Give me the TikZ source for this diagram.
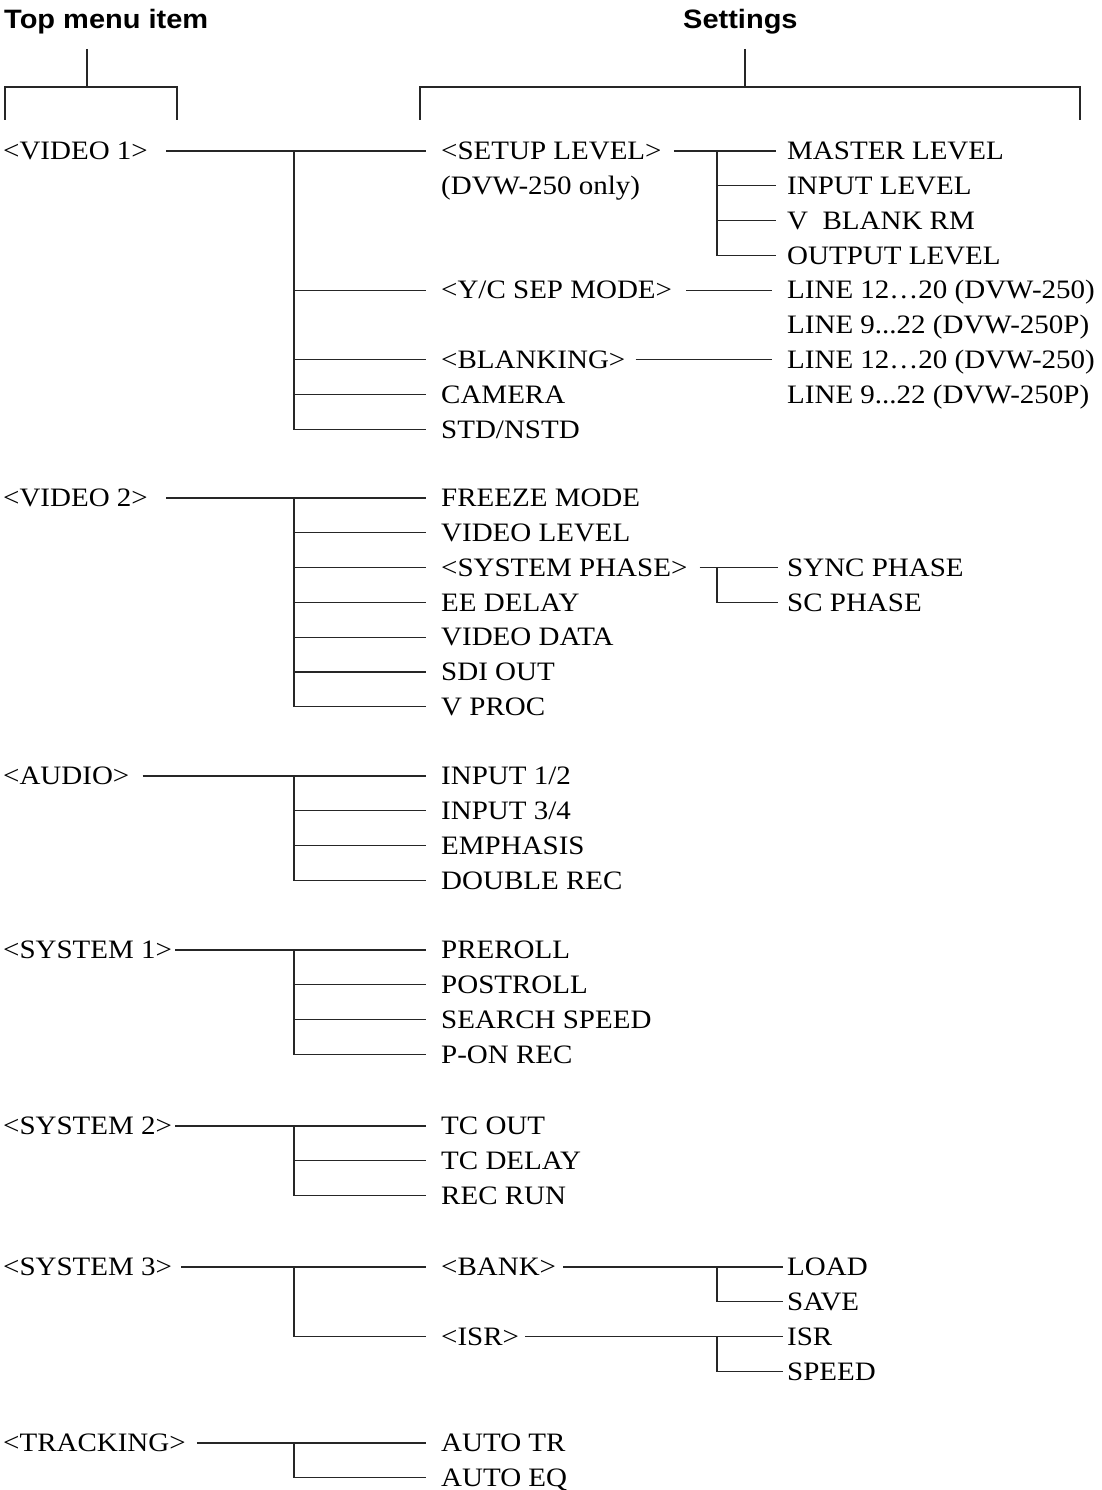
\documentclass[tikz,border=0pt]{standalone}
\usepackage{fontspec}
\setmainfont{Liberation Serif}[FakeStretch=1.09]
\newfontfamily\hdfont{Liberation Sans}[FakeStretch=1.09]
\begin{document}
\begin{tikzpicture}[x=1pt,y=-1pt,
  item/.style={anchor=west, inner sep=0pt, text height=17.4pt, text depth=0pt, font=\fontsize{26.6}{30}\selectfont},
  hdr/.style={anchor=base west, inner sep=0pt, font=\hdfont\bfseries\fontsize{26.6}{30}\selectfont},
  conn/.style={line width=1.2pt, draw=black!85}]
\useasboundingbox (0,0) rectangle (1102,1490);
% headers and brackets
\node[hdr] (tophdr) at (4,29) {Top menu item};
\node[hdr] (sethdr) at (683,29) {Settings};
\coordinate (tbstem) at (87,49);
\coordinate (sbstem) at (745,49);
\draw[conn] (tbstem) -- (87,87);
\draw[conn] (5,120) -- (5,87) -- (177,87) -- (177,120);
\draw[conn] (sbstem) -- (745,87);
\draw[conn] (420,120) -- (420,87) -- (1080,87) -- (1080,120);

% ---------- VIDEO 1
\node[item] (v1) at (3,151) {<VIDEO 1>};
\node[item] (setup) at (441,151) {<SETUP LEVEL>};
\node[item] (dvw) at (441,185.8) {(DVW-250 only)};
\node[item] (master) at (787,151) {MASTER LEVEL};
\node[item] (input) at (787,185.8) {INPUT LEVEL};
\node[item] (vblank) at (787,220.6) {V\ \ BLANK RM};
\node[item] (output) at (787,255.4) {OUTPUT LEVEL};
\node[item] (ycsep) at (441,290.2) {<Y/C SEP MODE>};
\node[item] (linea) at (787,290.2) {LINE 12…20 (DVW-250)};
\node[item] (lineb) at (787,325) {LINE 9...22 (DVW-250P)};
\node[item] (blank) at (441,359.8) {<BLANKING>};
\node[item] (linec) at (787,359.8) {LINE 12…20 (DVW-250)};
\node[item] (lined) at (787,394.6) {LINE 9...22 (DVW-250P)};
\node[item] (camera) at (441,394.6) {CAMERA};
\node[item] (std) at (441,429.4) {STD/NSTD};
\coordinate (jv1) at (294,151);
\coordinate (jsl) at (717,151);
\draw[conn] ([xshift=18pt]v1.east) -- ([xshift=-15pt]setup.west);
\draw[conn] (jv1) |- ([xshift=-15pt]std.west);
\foreach \n in {ycsep,blank,camera}
  \draw[conn] (jv1 |- \n.west) -- ([xshift=-15pt]\n.west);
\draw[conn] ([xshift=12pt]setup.east) -- ([xshift=-11pt]master.west);
\draw[conn] (jsl) |- ([xshift=-11pt]output.west);
\foreach \n in {input,vblank}
  \draw[conn] (jsl |- \n.west) -- ([xshift=-11pt]\n.west);
\draw[conn] ([xshift=14pt]ycsep.east) -- ([xshift=-15pt]linea.west);
\draw[conn] ([xshift=10pt]blank.east) -- ([xshift=-15pt]linec.west);

% ---------- VIDEO 2
\node[item] (v2) at (3,498) {<VIDEO 2>};
\node[item] (freeze) at (441,498) {FREEZE MODE};
\node[item] (vlevel) at (441,532.8) {VIDEO LEVEL};
\node[item] (sysph) at (441,567.6) {<SYSTEM PHASE>};
\node[item] (eedel) at (441,602.4) {EE DELAY};
\node[item] (vdata) at (441,637.2) {VIDEO DATA};
\node[item] (sdi) at (441,672) {SDI OUT};
\node[item] (vproc) at (441,706.8) {V PROC};
\node[item] (sync) at (787,567.6) {SYNC PHASE};
\node[item] (scph) at (787,602.4) {SC PHASE};
\coordinate (jv2) at (294,498);
\coordinate (jsp) at (717,567.6);
\draw[conn] ([xshift=18pt]v2.east) -- ([xshift=-15pt]freeze.west);
\draw[conn] (jv2) |- ([xshift=-15pt]vproc.west);
\foreach \n in {vlevel,sysph,eedel,vdata,sdi}
  \draw[conn] (jv2 |- \n.west) -- ([xshift=-15pt]\n.west);
\draw[conn] ([xshift=12pt]sysph.east) -- ([xshift=-9pt]sync.west);
\draw[conn] (jsp) |- ([xshift=-9pt]scph.west);

% ---------- AUDIO
\node[item] (audio) at (3,776) {<AUDIO>};
\node[item] (in12) at (441,776) {INPUT 1/2};
\node[item] (in34) at (441,810.8) {INPUT 3/4};
\node[item] (emph) at (441,845.6) {EMPHASIS};
\node[item] (dbl) at (441,880.4) {DOUBLE REC};
\coordinate (ja) at (294,776);
\draw[conn] ([xshift=13pt]audio.east) -- ([xshift=-15pt]in12.west);
\draw[conn] (ja) |- ([xshift=-15pt]dbl.west);
\foreach \n in {in34,emph}
  \draw[conn] (ja |- \n.west) -- ([xshift=-15pt]\n.west);

% ---------- SYSTEM 1
\node[item] (sys1) at (3,950) {<SYSTEM 1>};
\node[item] (prer) at (441,950) {PREROLL};
\node[item] (postr) at (441,984.8) {POSTROLL};
\node[item] (srch) at (441,1019.6) {SEARCH SPEED};
\node[item] (pon) at (441,1054.4) {P-ON REC};
\coordinate (js1) at (294,950);
\draw[conn] ([xshift=3pt]sys1.east) -- ([xshift=-15pt]prer.west);
\draw[conn] (js1) |- ([xshift=-15pt]pon.west);
\foreach \n in {postr,srch}
  \draw[conn] (js1 |- \n.west) -- ([xshift=-15pt]\n.west);

% ---------- SYSTEM 2
\node[item] (sys2) at (3,1126) {<SYSTEM 2>};
\node[item] (tcout) at (441,1126) {TC OUT};
\node[item] (tcdel) at (441,1160.8) {TC DELAY};
\node[item] (recrun) at (441,1195.6) {REC RUN};
\coordinate (js2) at (294,1126);
\draw[conn] ([xshift=3pt]sys2.east) -- ([xshift=-15pt]tcout.west);
\draw[conn] (js2) |- ([xshift=-15pt]recrun.west);
\draw[conn] (js2 |- tcdel.west) -- ([xshift=-15pt]tcdel.west);

% ---------- SYSTEM 3
\node[item] (sys3) at (3,1267) {<SYSTEM 3>};
\node[item] (bank) at (441,1267) {<BANK>};
\node[item] (isr) at (441,1336.6) {<ISR>};
\node[item] (load) at (787,1267) {LOAD};
\node[item] (save) at (787,1301.8) {SAVE};
\node[item] (isrb) at (787,1336.6) {ISR};
\node[item] (speed) at (787,1371.4) {SPEED};
\coordinate (js3) at (294,1267);
\coordinate (jbk) at (717,1267);
\coordinate (jis) at (717,1336.6);
\draw[conn] ([xshift=9pt]sys3.east) -- ([xshift=-15pt]bank.west);
\draw[conn] (js3) |- ([xshift=-15pt]isr.west);
\draw[conn] ([xshift=7pt]bank.east) -- ([xshift=-4pt]load.west);
\draw[conn] (jbk) |- ([xshift=-4pt]save.west);
\draw[conn] ([xshift=6pt]isr.east) -- ([xshift=-4pt]isrb.west);
\draw[conn] (jis) |- ([xshift=-4pt]speed.west);

% ---------- TRACKING
\node[item] (track) at (3,1443) {<TRACKING>};
\node[item] (atr) at (441,1443) {AUTO TR};
\node[item] (aeq) at (441,1477.8) {AUTO EQ};
\coordinate (jt) at (294,1443);
\draw[conn] ([xshift=11pt]track.east) -- ([xshift=-15pt]atr.west);
\draw[conn] (jt) |- ([xshift=-15pt]aeq.west);
\end{tikzpicture}
\end{document}
